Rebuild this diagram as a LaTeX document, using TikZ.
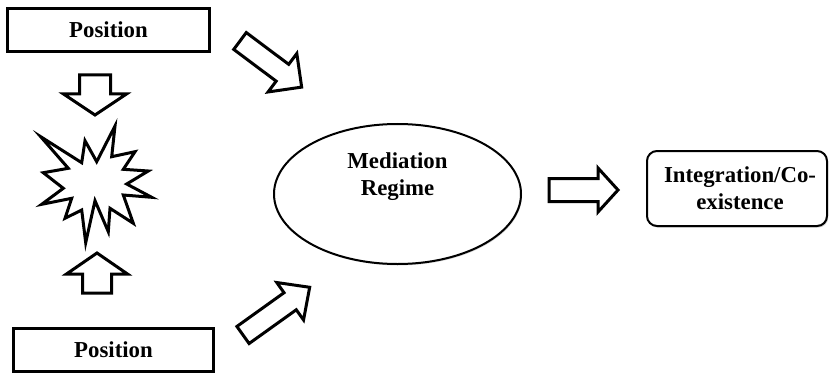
\documentclass[tikz,border=0pt]{standalone}
\usepackage{fontspec}
\setmainfont{Liberation Serif}
\usetikzlibrary{shapes.geometric,shadows}
\tikzset{
  arrowline/.style={draw=black, fill=white, line width=1.5pt, line join=miter},
  posbox/.style={draw, line width=1.5pt, rectangle, minimum width=100pt, minimum height=21.5pt, inner sep=0pt, outer sep=0pt},
  medell/.style={draw, ellipse, line width=1pt, minimum width=123.5pt, minimum height=70pt, inner sep=0pt,
    drop shadow={shadow xshift=0.5pt, shadow yshift=-0.7pt, fill=gray!70}, fill=white},
  resbox/.style={draw, rectangle, rounded corners=5pt, line width=1pt, minimum width=90pt, minimum height=37.5pt,
    inner sep=0pt, drop shadow={shadow xshift=0.6pt, shadow yshift=-0.8pt, fill=gray!70}, fill=white},
  txt/.style={align=center, inner sep=0pt},
  starline/.style={draw, line width=1.5pt, line join=miter, miter limit=20}
}
\newcommand\blockarrow[7]{%
  \begin{scope}[shift={(#1,#2)}, rotate=#3]
    \draw[arrowline] (0,{-#5/2}) -- ({#4-#7},{-#5/2}) -- ({#4-#7},{-#6/2}) -- (#4,0)
      -- ({#4-#7},{#6/2}) -- ({#4-#7},{#5/2}) -- (0,{#5/2}) -- cycle;
  \end{scope}}
\begin{document}
\begin{tikzpicture}[x=0.5pt,y=-0.5pt, font=\bfseries\fontsize{11.4}{13.5}\selectfont]
\useasboundingbox (0,0) rectangle (829,374);
% boxes
\node[posbox, minimum width=101pt] (top) at (108.5,30) {Position};
\node[posbox] (bot) at (113.5,350) {Position};
\node[medell] (med) at (397.5,194) {};
\node[txt] (medtxt) at (397.5,177) {Mediation\\Regime};
\node[resbox] (res) at (737,188.5) {};
\node[txt] (restxt) at (740,188.5) {Integration/Co-\\existence};
% star
\draw[starline] (40.7,136.7) -- (81.7,162.7) -- (85,140.7) -- (96.7,161.7) -- (115,126)
  -- (111.7,156.7) -- (135,151.7) -- (123.3,169.3) -- (148.3,171) -- (126.7,184)
  -- (151.7,197.3) -- (123.3,195) -- (133.3,223.3) -- (110,208.3) -- (108.3,231.7)
  -- (95,200.7) -- (85.7,242.7) -- (81.7,210) -- (65,218.3) -- (71.7,198.3)
  -- (41.7,204.3) -- (63.3,188.3) -- (43.3,172.7) -- (68.3,168.3) -- cycle;
% block arrows
\blockarrow{95}{75}{-90}{40}{31}{63}{21}
\blockarrow{97}{293}{90}{40}{29}{61}{21}
\blockarrow{549}{190}{0}{69}{23}{44}{20}
\blockarrow{240}{41}{-36.8}{77}{21}{48}{24}
\blockarrow{243}{335}{35.6}{82}{21}{46}{24}
\end{tikzpicture}
\end{document}
